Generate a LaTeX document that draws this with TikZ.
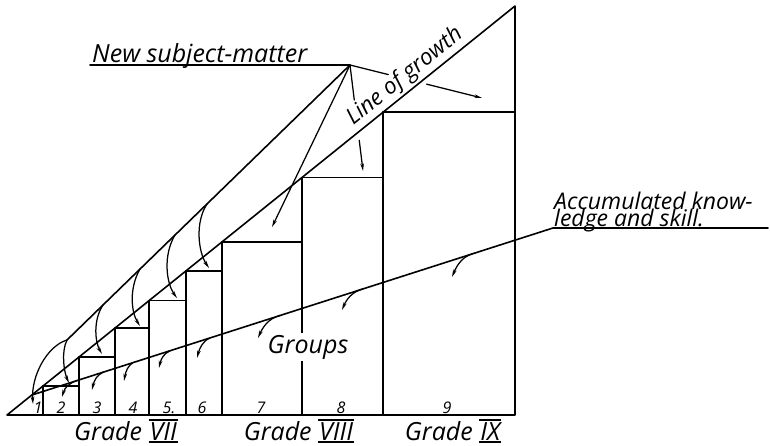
\documentclass[tikz,border=0pt]{standalone}
\usepackage{fontspec}
\setmainfont{Open Sans}
\usetikzlibrary{arrows.meta,calc}
\newcommand{\romnum}[1]{\setbox0\hbox{\kern1pt #1\kern1pt}\rlap{\rule[-2.8pt]{\wd0}{1.4pt}}\rlap{\rule[\dimexpr\ht0+1.5pt\relax]{\wd0}{1.4pt}}\box0}
\begin{document}
\begin{tikzpicture}[x=1pt,y=-1pt,line cap=round,line join=round,
  main/.style={line width=1.6pt},
  thinline/.style={line width=1.25pt},
  arr/.style={thinline,-{Stealth[length=7.5pt,width=3.6pt]}},
  lbl/.style={font=\fontsize{25}{28}\selectfont\itshape,inner sep=0pt},
  acc/.style={font=\fontsize{23}{26}\selectfont\itshape,inner sep=0pt},
  growth/.style={font=\fontsize{22.5}{26}\selectfont\itshape,inner sep=0pt},
  num/.style={font=\fontsize{16}{18}\selectfont\itshape,inner sep=0pt}]
\useasboundingbox (0,0) rectangle (770,446);
% main triangle
\coordinate (A) at (7,415);
\coordinate (B) at (515,415);
\coordinate (C) at (515,6);
\draw[main] (A) -- (B) -- (C) -- cycle;
% boxes
\foreach \a/\b in {43/79,79/115,115/149,149/186,186/222,222/302,302/383,383/515}
  \draw[main] (\a,415) -- (\a,{415-(\a-7)*0.80512}) -- (\b,{415-(\a-7)*0.80512});
% accumulated knowledge line
\coordinate (K0) at (32,395);
\coordinate (K1) at (553,228);
\coordinate (K2) at (768,228);
\draw[main] (K0) -- (K1) -- (K2);
\foreach \sx/\ex/\ey in {77/62/397,103/92/390,133/124/381,170/159/368,210/197/358,280/258/338,363/342/310,473/452/277}
  \draw[arr] (\sx,{395-(\sx-32)*0.32054})
     .. controls ({\sx-0.55*(\sx-\ex)},{395-(\sx-32)*0.32054+3})
     and ({\ex+0.2*(\sx-\ex)},{\ey-10}) .. (\ex,\ey);
% new subject-matter fan
\coordinate (F0) at (90,65);
\coordinate (F) at (350,65);
\coordinate (U) at (67,340);
\coordinate (T7) at (272,227);
\coordinate (T8) at (363,171);
\coordinate (T9) at (482,98);
\draw[main] (F0) -- (F) -- (U);
\draw[arr] (F) -- (T7);
\draw[thinline] (F) -- ($(F)!0.33!(T8)$);
\draw[arr] ($(F)!0.71!(T8)$) -- (T8);
\draw[thinline] (F) -- ($(F)!0.29!(T9)$);
\draw[arr] ($(F)!0.58!(T9)$) -- (T9);
\draw[arr] (207,204) .. controls (195,222) and (198,252) .. (209,268);
\draw[arr] (175,235) .. controls (163,255) and (166,283) .. (177,298);
\draw[arr] (140,269) .. controls (129,288) and (131,312) .. (140,326);
\draw[arr] (103,305) .. controls (93,320) and (95,342) .. (102,354);
\draw[arr] (U) .. controls (61,352) and (64,372) .. (69,383);
\draw[arr] (U) .. controls (47,346) and (31,376) .. (33,404);
% texts
\node[lbl,anchor=base west] (nsm) at (92,63) {New subject-matter};
\node[growth,anchor=south,rotate=38.83] (log) at (412,85.5) {Line of growth};
\node[acc,anchor=base west] (ak1) at (554,210) {Accumulated know-};
\node[acc,anchor=base west] (ak2) at (554,226.5) {ledge and skill.};
\node[lbl,fill=white,inner sep=2pt,anchor=base] (grp) at (308,353) {Groups};
\foreach \x/\t [count=\i] in {38/1,61/2,97/3,133/4,169/5.,202/6,261/7,341/8,447/9}
  \node[num,anchor=base] (n\i) at (\x,413) {\t};
\node[lbl,anchor=base] (g7) at (126,440) {Grade \romnum{VII}};
\node[lbl,anchor=base] (g8) at (299,440) {Grade \romnum{VIII}};
\node[lbl,anchor=base] (g9) at (453,440) {Grade \romnum{IX}};
\end{tikzpicture}
\end{document}
